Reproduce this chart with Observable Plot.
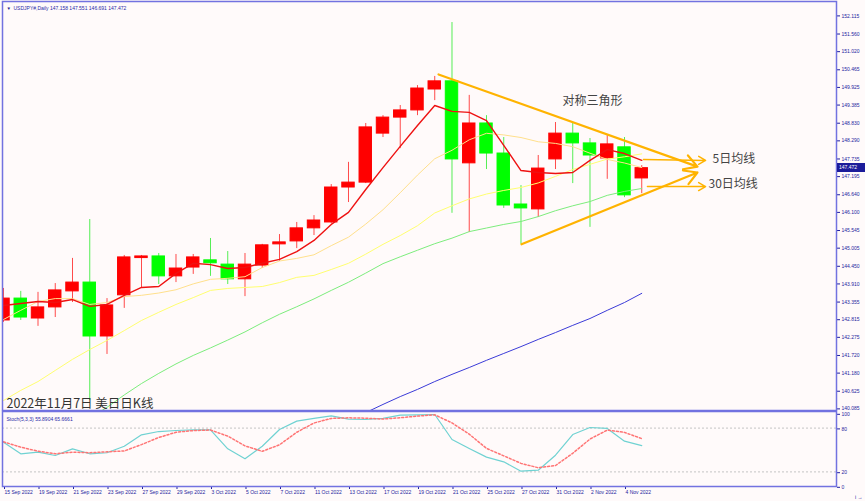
<!DOCTYPE html>
<html><head><meta charset="utf-8">
<script src="https://cdn.jsdelivr.net/npm/d3@7"></script>
<script src="https://cdn.jsdelivr.net/npm/@observablehq/plot@0.6"></script>
<style>
body{margin:0;background:#fffafa;}
#wrap{position:relative;width:865px;height:501px;background:#fffafa;overflow:hidden;font-family:"Liberation Sans",Arial,sans-serif;}
#wrap svg{position:absolute;left:0;}
#last{position:absolute;left:837px;width:28px;height:9px;background:#1c1c9a;color:#fff;font:5px/9px "Liberation Sans",Arial,sans-serif;padding-left:2px;box-sizing:border-box;z-index:5;white-space:nowrap;}
</style></head><body><div id="wrap"></div>
<script>
// ---- data ----
const dates = ["15 Sep 2022","16 Sep 2022","19 Sep 2022","20 Sep 2022","21 Sep 2022","22 Sep 2022","23 Sep 2022","26 Sep 2022","27 Sep 2022","28 Sep 2022","29 Sep 2022","30 Sep 2022","3 Oct 2022","4 Oct 2022","5 Oct 2022","6 Oct 2022","7 Oct 2022","10 Oct 2022","11 Oct 2022","12 Oct 2022","13 Oct 2022","14 Oct 2022","17 Oct 2022","18 Oct 2022","19 Oct 2022","20 Oct 2022","21 Oct 2022","24 Oct 2022","25 Oct 2022","26 Oct 2022","27 Oct 2022","28 Oct 2022","31 Oct 2022","1 Nov 2022","2 Nov 2022","3 Nov 2022","4 Nov 2022","7 Nov 2022"];
const open  = [142.81,143.48,142.87,143.21,143.70,143.97,142.32,143.58,144.72,144.77,144.16,144.43,144.65,144.52,144.07,144.49,145.14,145.23,145.63,145.81,146.88,147.03,148.53,149.02,149.24,149.88,150.13,147.62,148.84,147.92,146.36,146.21,147.74,148.53,148.23,147.77,148.11,147.158];
const high  = [143.79,143.70,143.67,143.94,144.71,145.90,143.48,144.80,144.80,144.86,144.83,144.83,145.32,144.92,144.86,145.14,145.44,145.81,146.02,146.97,147.65,148.84,149.08,149.39,150.00,150.28,151.93,149.70,149.08,148.41,146.94,147.86,148.87,148.84,148.38,148.47,148.41,147.551];
const low   = [142.75,142.81,142.63,142.90,143.36,140.36,141.77,143.18,143.79,143.91,143.97,144.22,144.16,143.91,143.54,144.40,144.62,145.01,145.41,145.78,146.42,147.00,148.41,148.07,149.08,149.54,146.09,145.50,147.43,146.24,145.14,145.96,147.43,147.00,145.66,147.13,146.57,146.691];
const close = [143.48,142.90,143.21,143.73,143.97,142.32,143.27,144.74,144.77,144.16,144.40,144.74,144.56,144.07,144.52,145.11,145.20,145.63,145.87,146.88,147.03,148.72,149.02,149.24,149.91,150.13,147.74,148.84,147.92,146.33,146.24,147.46,148.53,148.23,147.86,148.20,146.64,147.472];
const ma5  = [143.27,143.33,143.39,143.36,143.45,143.24,143.30,143.58,143.82,143.85,144.25,144.56,144.52,144.40,144.43,144.56,144.68,144.92,145.26,145.75,146.12,146.82,147.49,148.14,148.78,149.39,149.21,149.18,148.93,148.17,147.40,147.34,147.31,147.34,147.71,148.04,147.92,147.71];
const ma10 = [142.84,143.12,143.39,143.48,143.48,143.30,143.36,143.54,143.58,143.65,143.75,143.93,144.07,144.10,144.15,144.43,144.63,144.71,144.82,145.10,145.36,145.76,146.20,146.72,147.26,147.76,148.02,148.34,148.54,148.49,148.41,148.28,148.23,148.13,147.93,147.74,147.63,147.49];
const ma20 = [140.36,140.67,140.94,141.28,141.62,141.92,142.20,142.50,142.81,143.06,143.30,143.51,143.73,143.79,143.82,143.85,143.97,144.13,144.19,144.37,144.56,144.84,145.14,145.41,145.71,146.10,146.32,146.53,146.68,146.79,146.88,147.02,147.22,147.43,147.59,147.75,147.82,147.91];
const ma30 = [138.10,138.43,138.77,139.14,139.50,139.83,140.15,140.53,140.88,141.19,141.48,141.74,141.97,142.21,142.46,142.74,143.00,143.23,143.47,143.73,143.98,144.26,144.55,144.76,144.96,145.16,145.33,145.53,145.64,145.75,145.84,145.99,146.17,146.32,146.45,146.64,146.76,146.85];
const ma60 = [null,null,null,null,null,null,null,null,null,null,null,null,null,null,null,null,null,null,null,139.57,139.78,139.99,140.24,140.48,140.70,140.94,141.16,141.37,141.59,141.80,142.01,142.23,142.44,142.66,142.87,143.12,143.36,143.64];
const stochK = [60.7,44.8,47.0,42.5,51.6,44.8,46.2,55.2,70.8,75.3,76.7,77.7,77.7,51.6,37.9,55.2,78.1,89.5,93.2,96.8,92.2,91.8,93.2,97.7,98.2,98.6,64.4,52.1,40.2,33.8,21.0,22.3,42.9,71.2,80.8,79.5,62.1,55.89];
const stochD = [61.2,53.9,48.4,44.8,47.0,46.3,47.5,48.7,57.4,67.1,74.3,76.6,77.4,69.0,55.7,48.2,57.1,74.3,87.0,93.2,94.1,93.6,92.4,94.2,96.4,98.2,87.1,71.7,52.2,42.0,31.7,25.7,28.7,45.5,65.0,77.2,74.1,65.67];
const priceTicks = [152.115,151.560,151.020,150.465,149.925,149.385,148.830,148.290,147.735,147.195,146.640,146.100,145.545,145.005,144.450,143.910,143.355,142.815,142.275,141.720,141.180,140.625,140.085];
const stochTicks = [100,80,20,0];
const stochLevels = [80,20];
const header = "USDJPY#,Daily 147.158 147.551 146.691 147.472";
const stochHeader = "Stoch(5,3,3) 55.8904 65.6661";
const caption = "2022年11月7日 美日日K线";
const lastPrice = 147.472;
// annotations (bar index, price)
const triLines = [{x1:25.22,y1:150.34,x2:40.23,y2:147.52},{x1:30.03,y1:145.14,x2:40.23,y2:147.34}];
const maArrows = [{x1:37.1,y1:147.74,x2:40.7,y2:147.71},{x1:37.33,y1:146.91,x2:40.7,y2:146.91}];
const notes = [{x:32.40,y:149.51,text:"对称三角形"},{x:41.10,y:147.74,text:"5日均线"},{x:40.87,y:146.97,text:"30日均线"}];

// ---- build ----
const bars = dates.map((d,i)=>({i,date:d,open:open[i],high:high[i],low:low[i],close:close[i],up:close[i]>=open[i],
  ma5:ma5[i],ma10:ma10[i],ma20:ma20[i],ma30:ma30[i],ma60:ma60[i],k:stochK[i],d:stochD[i]}));
const upBars = bars.filter(b=>b.up), dnBars = bars.filter(b=>!b.up);
const xDomain = [-0.058, 48.29];
const frameColor = "#7272e0";
const axisColor = "#1e1e9e";
const cjk = "'Noto Sans CJK SC','Noto Sans',sans-serif";
const half = 0.36;
const fs = 5;
const wrap = document.getElementById("wrap");

const main = Plot.plot({
  width:865, height:411, marginLeft:2, marginRight:29, marginTop:1, marginBottom:1,
  style:{background:"transparent", color:axisColor, fontFamily:"'Liberation Sans',Arial,sans-serif"},
  x:{domain:xDomain, axis:null},
  y:{domain:[140.054,152.574], axis:null},
  marks:[
    Plot.ruleX(upBars,{x:"i",y1:"low",y2:"high",stroke:"#ff4a4a",strokeWidth:1,clip:true}),
    Plot.ruleX(dnBars,{x:"i",y1:"low",y2:"high",stroke:"#55ee55",strokeWidth:1,clip:true}),
    Plot.rect(upBars,{x1:d=>d.i-half,x2:d=>d.i+half,y1:"open",y2:"close",fill:"#ff0000",stroke:"#ff0000",strokeWidth:1,clip:true}),
    Plot.rect(dnBars,{x1:d=>d.i-half,x2:d=>d.i+half,y1:"open",y2:"close",fill:"#00ff00",stroke:"#00ff00",strokeWidth:1,clip:true}),
    Plot.line(bars,{x:"i",y:"ma60",stroke:"#3b3bd8",strokeWidth:1,clip:true}),
    Plot.line(bars,{x:"i",y:"ma30",stroke:"#7ded7d",strokeWidth:1,clip:true}),
    Plot.line(bars,{x:"i",y:"ma20",stroke:"#ffff70",strokeWidth:1,clip:true}),
    Plot.line(bars,{x:"i",y:"ma10",stroke:"#ffe08c",strokeWidth:1,clip:true}),
    Plot.line(bars,{x:"i",y:"ma5",stroke:"#ee1111",strokeWidth:1.4,clip:true}),
    Plot.arrow(triLines,{x1:"x1",y1:"y1",x2:"x2",y2:"y2",stroke:"#ffb300",strokeWidth:2.2,headLength:10}),
    Plot.arrow(maArrows,{x1:"x1",y1:"y1",x2:"x2",y2:"y2",stroke:"#ffb300",strokeWidth:1.5,headLength:8}),
    Plot.text(notes,{x:"x",y:"y",text:"text",textAnchor:"start",fontSize:12,fill:"#444",fontFamily:cjk}),
    Plot.text([caption],{frameAnchor:"bottom-left",dx:4,dy:-3,fontSize:12.5,fill:"#333",fontFamily:cjk,lineAnchor:"bottom"}),
    Plot.text(["▼"],{frameAnchor:"top-left",dx:4,dy:5,fontSize:4.5,fill:"#1a1a90"}),
    Plot.text([header],{frameAnchor:"top-left",dx:11,dy:5,fontSize:fs,fill:"#2a2aa8"}),
    Plot.axisY({anchor:"right",ticks:priceTicks,tickFormat:d=>d.toFixed(3),tickSize:3,tickPadding:2,fontSize:fs,dy:-0.6,color:axisColor}),
    Plot.frame({stroke:frameColor,strokeWidth:1.5})
  ]
});
main.style.top = "0px";
wrap.appendChild(main);

const stoch = Plot.plot({
  width:865, height:91, marginLeft:2, marginRight:29, marginTop:1, marginBottom:15,
  style:{background:"transparent", color:axisColor, fontFamily:"'Liberation Sans',Arial,sans-serif"},
  x:{domain:xDomain, axis:null},
  y:{domain:[0,102.74], axis:null},
  marks:[
    Plot.ruleY(stochLevels,{stroke:"#c4c4c4",strokeDasharray:"2,2"}),
    Plot.line(bars,{x:"i",y:"k",stroke:"#70d2d2",strokeWidth:1.2,clip:true}),
    Plot.line(bars,{x:"i",y:"d",stroke:"#ff7474",strokeWidth:1.5,strokeDasharray:"2,2",clip:true}),
    Plot.text([stochHeader],{frameAnchor:"top-left",dx:4,dy:6,fontSize:fs,fill:"#2a2aa8"}),
    Plot.axisY({anchor:"right",ticks:stochTicks,tickSize:3,tickPadding:2,fontSize:fs,dy:0.8,color:axisColor}),
    Plot.axisX({anchor:"bottom",ticks:d3.range(0,dates.length-1,2),tickFormat:i=>dates[i],tickSize:3,tickPadding:1,textAnchor:"start",dx:1,fontSize:fs,color:axisColor}),
    Plot.frame({stroke:frameColor,strokeWidth:1.5})
  ]
});
stoch.style.top = "410px";
wrap.appendChild(stoch);

// last price marker on the price axis, placed through the y scale
const py = main.scale("y").apply(lastPrice);
const marker = document.createElement("div");
marker.id = "last";
marker.style.top = (py - 4.5) + "px";
marker.textContent = lastPrice.toFixed(3);
wrap.appendChild(marker);
</script></body></html>
